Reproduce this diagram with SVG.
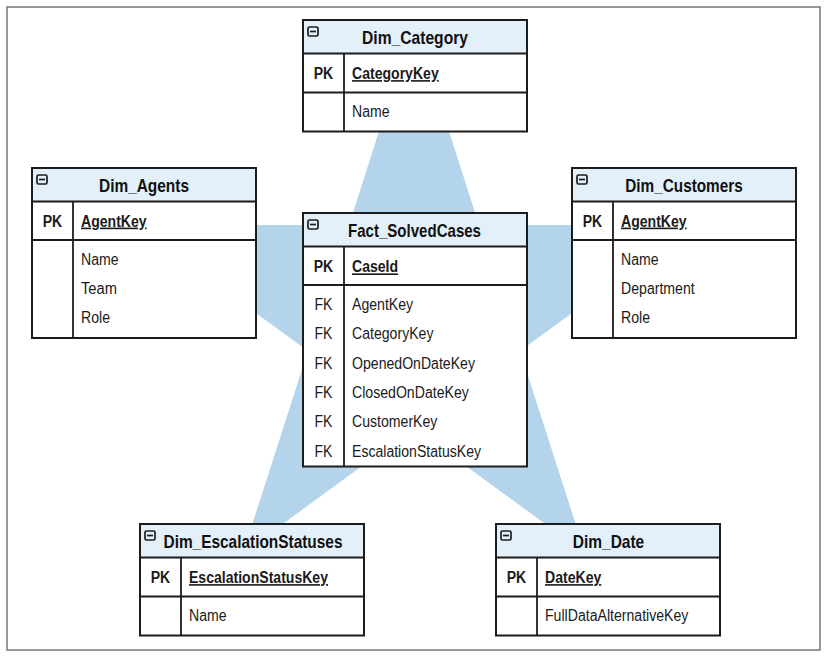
<svg xmlns="http://www.w3.org/2000/svg" width="829" height="656" viewBox="0 0 829 656">
<style>
  .frame{fill:#ffffff;stroke:#777777;stroke-width:1.5}
  .star{fill:#b3d4ea;stroke:none}
  .box{fill:#ffffff;stroke:#1c1c1c;stroke-width:2}
  .hdr{fill:#e3f0f9;stroke:#1c1c1c;stroke-width:2}
  .ln{stroke:#1c1c1c;stroke-width:1.8;fill:none}
  .ico{fill:none;stroke:#1c1c1c;stroke-width:1.7}
  text{font-family:"Liberation Sans",Arial,sans-serif;fill:#1a1a1a}
  .t{font-size:18.5px;font-weight:bold;text-anchor:middle;fill:#111111}
  .k{font-size:16px;font-weight:bold;text-anchor:middle}
  .kn{font-size:16px;font-weight:bold;text-decoration:underline}
  .f{font-size:16px;text-anchor:middle}
  .a{font-size:16px}
</style>
<defs>
  <g id="icon">
    <rect class="ico" x="0" y="0" width="10" height="9" rx="1.5"/>
    <line class="ico" x1="2" y1="4.5" x2="8" y2="4.5"/>
  </g>
</defs>
<rect class="frame" x="7" y="7" width="813" height="643"/>
<g id="connectors">
  <polygon id="star-background" class="star" points="414,22 479,225 693,225 520,351 585,553 414,428 243,553 308,351 135,225 349,225"/>
</g>

<g id="dim-category">
  <rect class="box" x="303" y="20" width="224" height="111.5"/>
  <rect class="hdr" x="303" y="20" width="224" height="33.5"/>
  <use href="#icon" x="308" y="27"/>
  <text class="t" x="415" y="44.2" textLength="106" lengthAdjust="spacingAndGlyphs">Dim_Category</text>
  <line class="ln" x1="303" y1="92.5" x2="527" y2="92.5"/>
  <line class="ln" x1="344" y1="53.5" x2="344" y2="131.5"/>
  <text class="k" x="323.5" y="79.1" textLength="19.5" lengthAdjust="spacingAndGlyphs">PK</text>
  <text class="kn" x="352" y="79.1" textLength="86.7" lengthAdjust="spacingAndGlyphs">CategoryKey</text>
  <text class="a" x="352" y="117.4" textLength="37.6" lengthAdjust="spacingAndGlyphs">Name</text>
</g>

<g id="dim-agents">
  <rect class="box" x="32" y="168" width="224" height="170"/>
  <rect class="hdr" x="32" y="168" width="224" height="33.5"/>
  <use href="#icon" x="37" y="175"/>
  <text class="t" x="144" y="192.2" textLength="90" lengthAdjust="spacingAndGlyphs">Dim_Agents</text>
  <line class="ln" x1="32" y1="240" x2="256" y2="240"/>
  <line class="ln" x1="73" y1="201.5" x2="73" y2="338"/>
  <text class="k" x="52.5" y="226.6" textLength="19.5" lengthAdjust="spacingAndGlyphs">PK</text>
  <text class="kn" x="81" y="226.6" textLength="65.6" lengthAdjust="spacingAndGlyphs">AgentKey</text>
  <text class="a" x="81" y="264.7" textLength="37.6" lengthAdjust="spacingAndGlyphs">Name</text>
  <text class="a" x="81" y="294" textLength="36" lengthAdjust="spacingAndGlyphs">Team</text>
  <text class="a" x="81" y="323.3" textLength="29" lengthAdjust="spacingAndGlyphs">Role</text>
</g>

<g id="fact-solvedcases">
  <rect class="box" x="303" y="213" width="224" height="253.5"/>
  <rect class="hdr" x="303" y="213" width="224" height="33.5"/>
  <use href="#icon" x="308" y="220"/>
  <text class="t" x="414.5" y="236.7" textLength="133" lengthAdjust="spacingAndGlyphs">Fact_SolvedCases</text>
  <line class="ln" x1="303" y1="285" x2="527" y2="285"/>
  <line class="ln" x1="344" y1="246.5" x2="344" y2="466.5"/>
  <text class="k" x="323.5" y="272.4" textLength="19.5" lengthAdjust="spacingAndGlyphs">PK</text>
  <text class="kn" x="352" y="272.4" textLength="46.1" lengthAdjust="spacingAndGlyphs">CaseId</text>
  <text class="f" x="323.5" y="310" textLength="18" lengthAdjust="spacingAndGlyphs">FK</text>
  <text class="a" x="352" y="310" textLength="61.1" lengthAdjust="spacingAndGlyphs">AgentKey</text>
  <text class="f" x="323.5" y="339.3" textLength="18" lengthAdjust="spacingAndGlyphs">FK</text>
  <text class="a" x="352" y="339.3" textLength="81.5" lengthAdjust="spacingAndGlyphs">CategoryKey</text>
  <text class="f" x="323.5" y="368.6" textLength="18" lengthAdjust="spacingAndGlyphs">FK</text>
  <text class="a" x="352" y="368.6" textLength="123" lengthAdjust="spacingAndGlyphs">OpenedOnDateKey</text>
  <text class="f" x="323.5" y="397.9" textLength="18" lengthAdjust="spacingAndGlyphs">FK</text>
  <text class="a" x="352" y="397.9" textLength="116.8" lengthAdjust="spacingAndGlyphs">ClosedOnDateKey</text>
  <text class="f" x="323.5" y="427.2" textLength="18" lengthAdjust="spacingAndGlyphs">FK</text>
  <text class="a" x="352" y="427.2" textLength="85.4" lengthAdjust="spacingAndGlyphs">CustomerKey</text>
  <text class="f" x="323.5" y="456.5" textLength="18" lengthAdjust="spacingAndGlyphs">FK</text>
  <text class="a" x="352" y="456.5" textLength="129" lengthAdjust="spacingAndGlyphs">EscalationStatusKey</text>
</g>

<g id="dim-customers">
  <rect class="box" x="572" y="168" width="224" height="170"/>
  <rect class="hdr" x="572" y="168" width="224" height="33.5"/>
  <use href="#icon" x="577" y="175"/>
  <text class="t" x="684" y="192.2" textLength="117.5" lengthAdjust="spacingAndGlyphs">Dim_Customers</text>
  <line class="ln" x1="572" y1="240" x2="796" y2="240"/>
  <line class="ln" x1="613" y1="201.5" x2="613" y2="338"/>
  <text class="k" x="592.5" y="226.6" textLength="19.5" lengthAdjust="spacingAndGlyphs">PK</text>
  <text class="kn" x="621" y="226.6" textLength="65.6" lengthAdjust="spacingAndGlyphs">AgentKey</text>
  <text class="a" x="621" y="264.7" textLength="37.6" lengthAdjust="spacingAndGlyphs">Name</text>
  <text class="a" x="621" y="294" textLength="73.7" lengthAdjust="spacingAndGlyphs">Department</text>
  <text class="a" x="621" y="323.3" textLength="29" lengthAdjust="spacingAndGlyphs">Role</text>
</g>

<g id="dim-escalationstatuses">
  <rect class="box" x="140" y="524" width="224" height="111.5"/>
  <rect class="hdr" x="140" y="524" width="224" height="33.5"/>
  <use href="#icon" x="145" y="531"/>
  <text class="t" x="253" y="548.2" textLength="179" lengthAdjust="spacingAndGlyphs">Dim_EscalationStatuses</text>
  <line class="ln" x1="140" y1="596.5" x2="364" y2="596.5"/>
  <line class="ln" x1="181" y1="557.5" x2="181" y2="635.5"/>
  <text class="k" x="160.5" y="583.1" textLength="19.5" lengthAdjust="spacingAndGlyphs">PK</text>
  <text class="kn" x="189" y="583.1" textLength="139" lengthAdjust="spacingAndGlyphs">EscalationStatusKey</text>
  <text class="a" x="189" y="621.4" textLength="37.6" lengthAdjust="spacingAndGlyphs">Name</text>
</g>

<g id="dim-date">
  <rect class="box" x="496" y="524" width="224" height="111.5"/>
  <rect class="hdr" x="496" y="524" width="224" height="33.5"/>
  <use href="#icon" x="501" y="531"/>
  <text class="t" x="608.5" y="548.2" textLength="71.5" lengthAdjust="spacingAndGlyphs">Dim_Date</text>
  <line class="ln" x1="496" y1="596.5" x2="720" y2="596.5"/>
  <line class="ln" x1="537" y1="557.5" x2="537" y2="635.5"/>
  <text class="k" x="516.5" y="583.1" textLength="19.5" lengthAdjust="spacingAndGlyphs">PK</text>
  <text class="kn" x="545" y="583.1" textLength="56.3" lengthAdjust="spacingAndGlyphs">DateKey</text>
  <text class="a" x="545" y="621.4" textLength="143.4" lengthAdjust="spacingAndGlyphs">FullDataAlternativeKey</text>
</g>
</svg>
